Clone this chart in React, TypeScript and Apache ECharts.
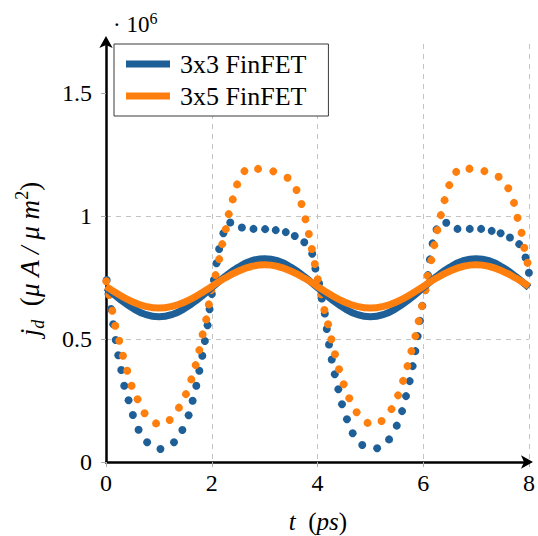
import React, { useEffect, useRef } from 'react';
import * as echarts from 'echarts';

const seriesNames = ['3x3 FinFET', '3x5 FinFET'];
const xTickValues = [0, 2, 4, 6, 8];
const yTickValues = [0, 0.5, 1, 1.5];

const lineT = [0, 0.25, 0.5, 0.75, 1, 1.25, 1.5, 1.75, 2, 2.25, 2.5, 2.75, 3, 3.25, 3.5, 3.75, 4,
  4.25, 4.5, 4.75, 5, 5.25, 5.5, 5.75, 6, 6.25, 6.5, 6.75, 7, 7.25, 7.5, 7.75, 8];
const blueLine = [0.709, 0.664, 0.626, 0.600, 0.591, 0.600, 0.626, 0.664, 0.709, 0.754, 0.792, 0.818, 0.827, 0.818, 0.792, 0.754,
  0.709, 0.664, 0.626, 0.600, 0.591, 0.600, 0.626, 0.664, 0.709, 0.754, 0.792, 0.818, 0.827, 0.818, 0.792, 0.754, 0.709];
const orangeLine = [0.714, 0.680, 0.652, 0.633, 0.626, 0.633, 0.652, 0.680, 0.714, 0.748, 0.776, 0.795, 0.802, 0.795, 0.776, 0.748,
  0.714, 0.680, 0.652, 0.633, 0.626, 0.633, 0.652, 0.680, 0.714, 0.748, 0.776, 0.795, 0.802, 0.795, 0.776, 0.748, 0.714];

const blueDots: [number, number][] = [
  [0.013, 0.740], [0.047, 0.683], [0.094, 0.622], [0.137, 0.560], [0.183, 0.496], [0.232, 0.434], [0.288, 0.374],
  [0.345, 0.310], [0.427, 0.251], [0.508, 0.191], [0.616, 0.131], [0.778, 0.080], [1.030, 0.053], [1.286, 0.080],
  [1.444, 0.130], [1.563, 0.190], [1.638, 0.249], [1.708, 0.310], [1.765, 0.371], [1.821, 0.432], [1.870, 0.492],
  [1.921, 0.556], [1.959, 0.621], [2.002, 0.683], [2.040, 0.740], [2.090, 0.808], [2.140, 0.866], [2.220, 0.930],
  [2.350, 0.974], [2.570, 0.954], [2.790, 0.948], [3.010, 0.947], [3.210, 0.943], [3.400, 0.935], [3.570, 0.919],
  [3.750, 0.894], [3.900, 0.847], [3.960, 0.787], [4.030, 0.726], [4.081, 0.665], [4.138, 0.604], [4.175, 0.541],
  [4.218, 0.478], [4.269, 0.417], [4.326, 0.357], [4.394, 0.296], [4.463, 0.235], [4.557, 0.174], [4.665, 0.117],
  [4.846, 0.069], [5.128, 0.056], [5.354, 0.092], [5.499, 0.148], [5.599, 0.207], [5.674, 0.268], [5.744, 0.329],
  [5.800, 0.390], [5.851, 0.451], [5.895, 0.512], [5.938, 0.574], [5.983, 0.635], [6.040, 0.699], [6.089, 0.760],
  [6.126, 0.824], [6.177, 0.889], [6.252, 0.946], [6.435, 0.973], [6.648, 0.948], [6.880, 0.948], [7.094, 0.948],
  [7.294, 0.940], [7.463, 0.930], [7.640, 0.913], [7.815, 0.886], [7.934, 0.832], [7.998, 0.770]
];

const orangeDots: [number, number][] = [
  [0.005, 0.735], [0.062, 0.679], [0.119, 0.615], [0.175, 0.554], [0.250, 0.493], [0.320, 0.432], [0.401, 0.371],
  [0.484, 0.310], [0.597, 0.255], [0.729, 0.198], [0.947, 0.157], [1.205, 0.171], [1.380, 0.221], [1.512, 0.276],
  [1.614, 0.336], [1.695, 0.394], [1.765, 0.455], [1.827, 0.519], [1.896, 0.580], [1.945, 0.641], [1.991, 0.699],
  [2.072, 0.760], [2.141, 0.825], [2.198, 0.886], [2.266, 0.947], [2.322, 1.008], [2.397, 1.068], [2.480, 1.129],
  [2.618, 1.183], [2.876, 1.192], [3.164, 1.182], [3.433, 1.156], [3.603, 1.106], [3.697, 1.049], [3.772, 0.987],
  [3.836, 0.927], [3.893, 0.866], [3.949, 0.805], [4.005, 0.743], [4.068, 0.682], [4.130, 0.618], [4.200, 0.560],
  [4.262, 0.499], [4.331, 0.438], [4.407, 0.377], [4.495, 0.316], [4.601, 0.259], [4.740, 0.202], [4.947, 0.159],
  [5.211, 0.167], [5.399, 0.215], [5.524, 0.271], [5.618, 0.330], [5.701, 0.390], [5.776, 0.451], [5.851, 0.512],
  [5.913, 0.573], [5.976, 0.634], [6.040, 0.699], [6.083, 0.757], [6.153, 0.821], [6.209, 0.882], [6.266, 0.943],
  [6.333, 1.004], [6.403, 1.065], [6.492, 1.126], [6.623, 1.180], [6.874, 1.193], [7.156, 1.183], [7.426, 1.160],
  [7.608, 1.113], [7.716, 1.054], [7.783, 0.993], [7.859, 0.932], [7.910, 0.871], [7.972, 0.810]
];

const BLUE = '#1d5f96';
const ORANGE = '#ff7f0e';
const FONT = 'Liberation Serif, DejaVu Serif, serif';

export default function App() {
  const ref = useRef<HTMLDivElement>(null);
  useEffect(() => {
    if (!ref.current) return;
    const chart = echarts.init(ref.current, undefined, { renderer: 'svg' });
    const gridDash = { color: '#c4c4c4', width: 1, type: [5, 5] as number[] };
    const tok = (size: number, italic: boolean, extra: object = {}) => ({
      fontFamily: FONT, fontStyle: italic ? 'italic' : 'normal', fontSize: size, color: '#000', ...extra,
    });
    chart.setOption({
      animation: false,
      backgroundColor: '#fff',
      textStyle: { fontFamily: FONT },
      grid: { left: 106, right: 7, top: 44, bottom: 74, containLabel: false },
      xAxis: {
        type: 'value', min: 0, max: 8, interval: 2,
        axisLine: { show: true, onZero: false, symbol: ['none', 'arrow'], symbolSize: [10, 12], symbolOffset: [0, 4], lineStyle: { color: '#000', width: 2.5 } },
        axisTick: { show: true, length: 5, customValues: xTickValues, lineStyle: { color: '#aaa', width: 1 } },
        axisLabel: { color: '#000', fontFamily: FONT, fontSize: 24, margin: 9, customValues: xTickValues, formatter: (v: number) => String(v) },
        splitLine: { show: true, lineStyle: gridDash },
      },
      yAxis: {
        type: 'value', min: 0, max: 1.7, interval: 0.5,
        axisLine: { show: true, onZero: false, symbol: ['none', 'arrow'], symbolSize: [10, 12], symbolOffset: [0, 8], lineStyle: { color: '#000', width: 2.5 } },
        axisTick: { show: true, length: 5, customValues: yTickValues, lineStyle: { color: '#aaa', width: 1 } },
        axisLabel: { color: '#000', fontFamily: FONT, fontSize: 24, margin: 14, customValues: yTickValues, formatter: (v: number) => String(v) },
        splitLine: { show: true, showMaxLine: false, lineStyle: gridDash },
      },
      legend: {
        data: seriesNames,
        orient: 'vertical',
        left: 114, top: 44,
        padding: [7, 22, 7, 12],
        itemGap: 6,
        itemWidth: 44, itemHeight: 7,
        icon: 'rect',
        backgroundColor: '#fff', borderColor: '#3a3a3a', borderWidth: 1, borderRadius: 0,
        textStyle: { fontFamily: FONT, fontSize: 26, color: '#000', padding: [0, 0, 0, 5] },
      },
      graphic: [
        {
          type: 'text', x: 30, y: 259, rotation: Math.PI / 2,
          style: {
            text: '{i|j}{s|d}{n|  (}{i|μ A / μ m}{p|2}{n|)}',
            fontFamily: FONT, fontSize: 27, fill: '#000',
            align: 'center', verticalAlign: 'middle',
            rich: {
              i: tok(27, true, { lineHeight: 34 }),
              n: tok(27, false, { lineHeight: 34 }),
              s: tok(18, true, { lineHeight: 18, verticalAlign: 'bottom' }),
              p: tok(18, false, { lineHeight: 18, verticalAlign: 'top' }),
            },
          },
        },
        {
          type: 'text', x: 318, y: 521,
          style: {
            text: '{i|t}{n|  (}{i|ps}{n|)}',
            fontFamily: FONT, fontSize: 25, fill: '#000',
            align: 'center', verticalAlign: 'middle',
            rich: {
              i: tok(25, true, { lineHeight: 30 }),
              n: tok(25, false, { lineHeight: 30 }),
            },
          },
        },
        {
          type: 'text', x: 113, y: 24,
          style: {
            text: '{n|· 10}{p|6}',
            fontFamily: FONT, fontSize: 23, fill: '#000',
            align: 'left', verticalAlign: 'middle',
            rich: {
              n: tok(23, false, { lineHeight: 28 }),
              p: tok(16, false, { lineHeight: 16, verticalAlign: 'top' }),
            },
          },
        },
      ],
      series: [
        {
          name: seriesNames[0], type: 'line', data: lineT.map((t, i) => [t, blueLine[i]]),
          smooth: true, showSymbol: false, symbol: 'none', lineStyle: { color: BLUE, width: 7 }, itemStyle: { color: BLUE },
        },
        {
          name: seriesNames[1], type: 'line', data: lineT.map((t, i) => [t, orangeLine[i]]),
          smooth: true, showSymbol: false, symbol: 'none', lineStyle: { color: ORANGE, width: 7 }, itemStyle: { color: ORANGE },
        },
        {
          name: '3x3 dots', type: 'scatter', data: blueDots, symbolSize: 8, itemStyle: { color: BLUE, opacity: 1 },
        },
        {
          name: '3x5 dots', type: 'scatter', data: orangeDots, symbolSize: 8, itemStyle: { color: ORANGE, opacity: 1 },
        },
      ],
    });
    return () => chart.dispose();
  }, []);
  return <div ref={ref} style={{ position: 'fixed', left: 0, top: 0, width: 538, height: 536 }} />;
}
